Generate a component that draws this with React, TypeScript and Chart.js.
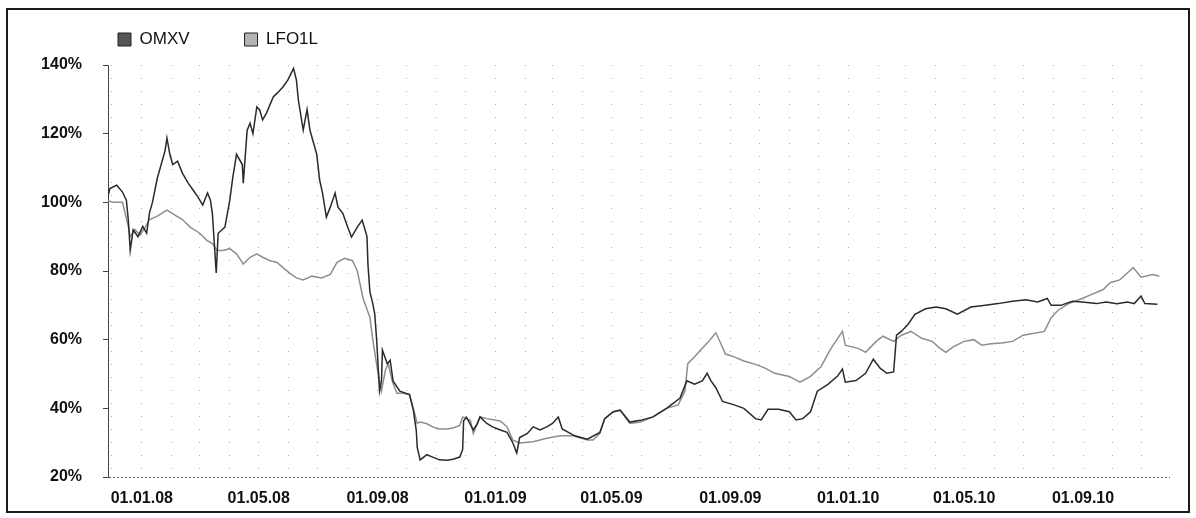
import React, { useEffect, useRef } from 'react';
import { Chart, registerables } from 'chart.js';

Chart.register(...registerables);

// ---- data ----
const seriesNames = ['OMXV', 'LFO1L'];

const omxvDates = [
  '2007-11-26','2007-11-29','2007-12-06','2007-12-12','2007-12-16','2007-12-18','2007-12-20','2007-12-23','2007-12-28',
  '2008-01-02','2008-01-06','2008-01-09','2008-01-12','2008-01-17','2008-01-20','2008-01-25','2008-01-27','2008-01-30',
  '2008-02-02','2008-02-07','2008-02-12','2008-02-18','2008-02-23','2008-02-28',
  '2008-03-04','2008-03-09','2008-03-12','2008-03-14','2008-03-18','2008-03-20','2008-03-24','2008-03-27',
  '2008-04-01','2008-04-04','2008-04-08','2008-04-14','2008-04-15','2008-04-19','2008-04-22','2008-04-25','2008-04-29',
  '2008-05-02','2008-05-05','2008-05-09','2008-05-16','2008-05-20','2008-05-26','2008-05-31',
  '2008-06-06','2008-06-09','2008-06-11','2008-06-16','2008-06-20','2008-06-23','2008-06-26','2008-06-30',
  '2008-07-03','2008-07-06','2008-07-10','2008-07-14','2008-07-19','2008-07-22','2008-07-27',
  '2008-08-01','2008-08-05','2008-08-11','2008-08-16','2008-08-19','2008-08-21','2008-08-22','2008-08-24','2008-08-27','2008-08-29','2008-08-31',
  '2008-09-03','2008-09-05','2008-09-06','2008-09-11','2008-09-14','2008-09-17','2008-09-24',
  '2008-10-04','2008-10-08','2008-10-11','2008-10-12','2008-10-15','2008-10-22','2008-10-28',
  '2008-11-04','2008-11-12','2008-11-18','2008-11-25','2008-11-28','2008-11-29',
  '2008-12-02','2008-12-09','2008-12-13','2008-12-16','2008-12-23','2008-12-29',
  '2009-01-06','2009-01-13','2009-01-19','2009-01-23','2009-01-26',
  '2009-02-03','2009-02-09','2009-02-16','2009-02-23',
  '2009-03-01','2009-03-07','2009-03-11','2009-03-24',
  '2009-04-06','2009-04-19','2009-04-24',
  '2009-05-03','2009-05-10','2009-05-20','2009-05-31',
  '2009-06-13','2009-06-27',
  '2009-07-11','2009-07-18','2009-07-26',
  '2009-08-03','2009-08-08','2009-08-12','2009-08-17','2009-08-24',
  '2009-09-05','2009-09-15','2009-09-27',
  '2009-10-03','2009-10-10','2009-10-21',
  '2009-11-01','2009-11-08','2009-11-15','2009-11-23','2009-11-30',
  '2009-12-11','2009-12-21','2009-12-26','2009-12-29',
  '2010-01-09','2010-01-19','2010-01-27',
  '2010-02-03','2010-02-10','2010-02-17','2010-02-20','2010-02-25',
  '2010-03-04','2010-03-11','2010-03-22',
  '2010-04-02','2010-04-12','2010-04-24',
  '2010-05-08','2010-05-23',
  '2010-06-05','2010-06-20',
  '2010-07-04','2010-07-16','2010-07-26','2010-07-30',
  '2010-08-09','2010-08-21','2010-08-31',
  '2010-09-15','2010-09-25',
  '2010-10-06','2010-10-17','2010-10-24','2010-10-31',
  '2010-11-04','2010-11-17',
];
const omxvValues = [
  100.6,104,105,103,100.6,95,86,92,90,
  93,91,97,100,107,110,115,118.7,114,
  111,112,108.5,105.6,103.6,101.6,
  99.2,102.7,100.6,96.8,79.4,91,92,92.8,
  100.6,107,114,111,105.6,121,123,120,127.8,
  126.9,124,126,130.7,131.8,133.6,135.6,
  139,135.6,129.8,121,127,121,118,114,
  106.5,102.7,95.7,98.6,102.7,98.6,96.8,
  92.8,89.9,92.8,94.8,92,90,82,74,70.5,67.6,60,
  45,48,57,53,54,48,45,
  44,39.4,33.6,28.6,25,26.5,25.8,
  25,24.9,25.2,25.8,28,36.4,
  37.4,33.7,35.5,37.5,35.6,34.6,
  33.7,33,29.9,27,31.5,
  32.7,34.6,33.7,34.6,
  35.6,37.5,34,32,
  31,33,37,
  39,39.5,36,36.5,
  37.5,40,
  43,48,47,
  48,50.2,48,46,42,
  41,40,37,
  36.6,39.7,39.7,
  39,36.6,37,39,45,
  47,49.4,51.4,47.6,
  48.1,50.2,54.3,
  51.7,50.2,50.6,61.3,62.4,
  64.5,67.4,69,
  69.5,69,67.4,
  69.5,70,
  70.5,71.2,
  71.6,71,72,70,
  70,71.2,71,
  70.5,71,
  70.5,71,70.5,72.7,
  70.5,70.3,
];

const lfoDates = [
  '2007-11-26','2007-12-02','2007-12-12','2007-12-14','2007-12-18','2007-12-20','2007-12-25','2007-12-30',
  '2008-01-04','2008-01-09','2008-01-17','2008-01-27',
  '2008-02-06','2008-02-12','2008-02-20',
  '2008-03-01','2008-03-08','2008-03-14','2008-03-19','2008-03-25',
  '2008-04-01','2008-04-08','2008-04-15','2008-04-22','2008-04-29',
  '2008-05-05','2008-05-13','2008-05-20','2008-05-26',
  '2008-06-02','2008-06-09','2008-06-16','2008-06-25',
  '2008-07-05','2008-07-14','2008-07-21','2008-07-29',
  '2008-08-06','2008-08-11','2008-08-17','2008-08-24','2008-08-27',
  '2008-09-01','2008-09-05','2008-09-09','2008-09-12','2008-09-16','2008-09-21','2008-09-27',
  '2008-10-04','2008-10-08','2008-10-12','2008-10-15','2008-10-22','2008-10-28',
  '2008-11-04','2008-11-12','2008-11-18','2008-11-25','2008-11-28',
  '2008-12-06','2008-12-09','2008-12-16','2008-12-23',
  '2009-01-06','2009-01-13','2009-01-19','2009-01-26',
  '2009-02-09','2009-02-23',
  '2009-03-09','2009-03-22',
  '2009-04-06','2009-04-12','2009-04-19','2009-04-24',
  '2009-05-03','2009-05-10','2009-05-20','2009-05-31',
  '2009-06-13','2009-06-27',
  '2009-07-09','2009-07-16','2009-07-19','2009-07-26',
  '2009-08-03','2009-08-10','2009-08-17','2009-08-21','2009-08-27',
  '2009-09-05','2009-09-15','2009-09-27',
  '2009-10-07','2009-10-17',
  '2009-11-01','2009-11-12','2009-11-23',
  '2009-12-04','2009-12-14','2009-12-26','2009-12-29',
  '2010-01-12','2010-01-19','2010-01-30',
  '2010-02-06','2010-02-17','2010-02-25',
  '2010-03-07','2010-03-18','2010-03-29',
  '2010-04-05','2010-04-12','2010-04-20',
  '2010-05-01','2010-05-11','2010-05-19','2010-05-29',
  '2010-06-09','2010-06-20',
  '2010-07-01','2010-07-11','2010-07-23','2010-07-30',
  '2010-08-06','2010-08-17','2010-08-31',
  '2010-09-10','2010-09-22','2010-09-29',
  '2010-10-09','2010-10-23','2010-10-31',
  '2010-11-12','2010-11-19',
];
const lfoValues = [
  100.6,100,100,97.7,93,90,92,90.5,
  92.5,95,96,97.7,
  96,95,92.8,
  91,89,88,86,86,
  86.5,85,82,84,85,
  84,83,82.5,81,
  79.4,78,77.4,78.5,
  78,79,82.5,83.7,
  83,80,72,66.5,60,
  51,45,51,53,48,44.4,44.4,
  44,40,35.6,36,35.5,34.6,
  34,34,34.3,35,37.5,
  36.5,32.7,37.5,37,
  36.3,34.6,30.7,29.9,
  30.3,31.3,
  32,32,
  30.8,30.8,32.7,37,
  39,39.4,35.6,36,
  37.5,40,
  41,45,53,55,
  57.5,59.6,62,59.6,55.8,
  55,53.8,52.8,
  51.7,50.2,
  49.3,47.6,49.3,
  52.2,57.4,62.4,58.4,
  57.4,56.3,59.5,
  61,59.5,61.3,
  62.4,60.4,59.5,
  57.7,56.3,58,
  59.5,60,58.4,58.8,
  59,59.5,
  61.3,61.8,62.4,66.4,
  68.5,70.5,72,
  73.2,74.6,76.6,
  77.4,81,78.2,
  79,78.5,
];

const xRange = ['2007-11-27', '2010-11-30'];
const xTickDates = ['2008-01-01','2008-05-01','2008-09-01','2009-01-01','2009-05-01','2009-09-01','2010-01-01','2010-05-01','2010-09-01'];
const xTickLabels = ['01.01.08','01.05.08','01.09.08','01.01.09','01.05.09','01.09.09','01.01.10','01.05.10','01.09.10'];
const yTickValues = [20, 40, 60, 80, 100, 120, 140];

// ---- helpers ----
const DAY = 86400000;
const ORIGIN = Date.UTC(2008, 0, 1);
const toDay = (s: string) => {
  const [y, m, d] = s.split('-').map(Number);
  return Math.round((Date.UTC(y, m - 1, d) - ORIGIN) / DAY);
};
const toPoints = (dates: string[], vals: number[]) => {
  const n = Math.min(dates.length, vals.length);
  const out: { x: number; y: number }[] = [];
  for (let i = 0; i < n; i++) out.push({ x: toDay(dates[i]), y: vals[i] });
  return out;
};

// month starts for the dotted vertical grid
const monthStarts = (() => {
  const res: number[] = [];
  const start = new Date(xRange[0] + 'T00:00:00Z');
  const end = toDay(xRange[1]);
  let y = start.getUTCFullYear();
  let m = start.getUTCMonth() + 1;
  for (;;) {
    const d = (Date.UTC(y, m, 1) - ORIGIN) / DAY;
    if (d > end) break;
    res.push(Math.round(d));
    m++;
    if (m > 11) { m = 0; y++; }
  }
  return res;
})();

const tickLabelMap = new Map<number, string>();
xTickDates.forEach((d, i) => tickLabelMap.set(toDay(d), xTickLabels[i]));

const FONT = '"Liberation Sans", Arial, Helvetica, sans-serif';

export default function App() {
  const canvasRef = useRef<HTMLCanvasElement | null>(null);

  useEffect(() => {
    if (!canvasRef.current) return;
    Chart.defaults.font.family = FONT;

    const legendPlacer = {
      id: 'legendPlacer',
      afterLayout(chart: any) {
        const lg = chart.legend;
        if (lg) {
          lg.left = 55;
          lg.top = -34;
        }
      },
    };

    const chart = new Chart(canvasRef.current, {
      type: 'line',
      data: {
        datasets: [
          {
            label: seriesNames[0],
            data: toPoints(omxvDates, omxvValues),
            borderColor: '#2a2a2a',
            backgroundColor: '#555555',
            borderWidth: 1.5,
            pointRadius: 0,
            tension: 0,
          },
          {
            label: seriesNames[1],
            data: toPoints(lfoDates, lfoValues),
            borderColor: '#8e8e8e',
            backgroundColor: '#b4b4b4',
            borderWidth: 1.5,
            pointRadius: 0,
            tension: 0,
          },
        ],
      },
      options: {
        animation: false,
        responsive: true,
        maintainAspectRatio: false,
        layout: { padding: { top: 15, right: 18, left: 0, bottom: 0 } },
        plugins: {
          tooltip: { enabled: false },
          legend: {
            display: true,
            position: 'top',
            align: 'start',
            maxHeight: 40,
            labels: {
              boxWidth: 13,
              boxHeight: 13,
              padding: 55,
              color: '#111',
              font: { size: 17, family: FONT },
              generateLabels: (c: any) =>
                Chart.defaults.plugins.legend.labels.generateLabels(c).map((l: any) => ({
                  ...l,
                  strokeStyle: '#222',
                  lineWidth: 1,
                })),
            },
          },
        },
        scales: {
          x: {
            type: 'linear',
            min: toDay(xRange[0]),
            max: toDay(xRange[1]),
            afterBuildTicks: (s: any) => {
              s.ticks = monthStarts.map((v) => ({ value: v }));
            },
            afterFit: (s: any) => {
              s.height = 34;
            },
            ticks: {
              autoSkip: false,
              maxRotation: 0,
              minRotation: 0,
              padding: 8,
              color: '#111',
              font: { size: 16, weight: 'bold', family: FONT },
              callback: (v: any) => tickLabelMap.get(Math.round(Number(v))) ?? '',
            },
            grid: {
              display: true,
              drawOnChartArea: true,
              color: '#b0b0b0',
              lineWidth: 1,
              drawTicks: true,
              tickLength: 4,
              tickColor: 'rgba(0,0,0,0)',
            },
            border: { display: false, dash: [1, 12] },
          },
          y: {
            min: 20,
            max: 140,
            afterBuildTicks: (s: any) => {
              s.ticks = yTickValues.map((v) => ({ value: v }));
            },
            afterFit: (s: any) => {
              s.width = 100;
            },
            ticks: {
              padding: 21,
              color: '#111',
              font: { size: 16, weight: 'bold', family: FONT },
              callback: (v: any) => `${v}%`,
            },
            grid: {
              display: true,
              drawOnChartArea: true,
              color: (ctx: any) => (ctx.tick && ctx.tick.value === 20 ? '#555' : 'rgba(0,0,0,0)'),
              tickColor: '#444',
              tickLength: 5,
            },
            border: { display: true, color: '#444', width: 1, dash: [2, 2] },
          },
        },
      },
      plugins: [legendPlacer],
    } as any);

    return () => chart.destroy();
  }, []);

  return (
    <div
      style={{
        position: 'absolute',
        left: 6,
        top: 8,
        width: 1184,
        height: 505,
        border: '2px solid #1a1a1a',
        boxSizing: 'border-box',
        background: '#fff',
      }}
    >
      <div style={{ position: 'relative', width: 1180, height: 501 }}>
        <canvas ref={canvasRef} />
      </div>
    </div>
  );
}
